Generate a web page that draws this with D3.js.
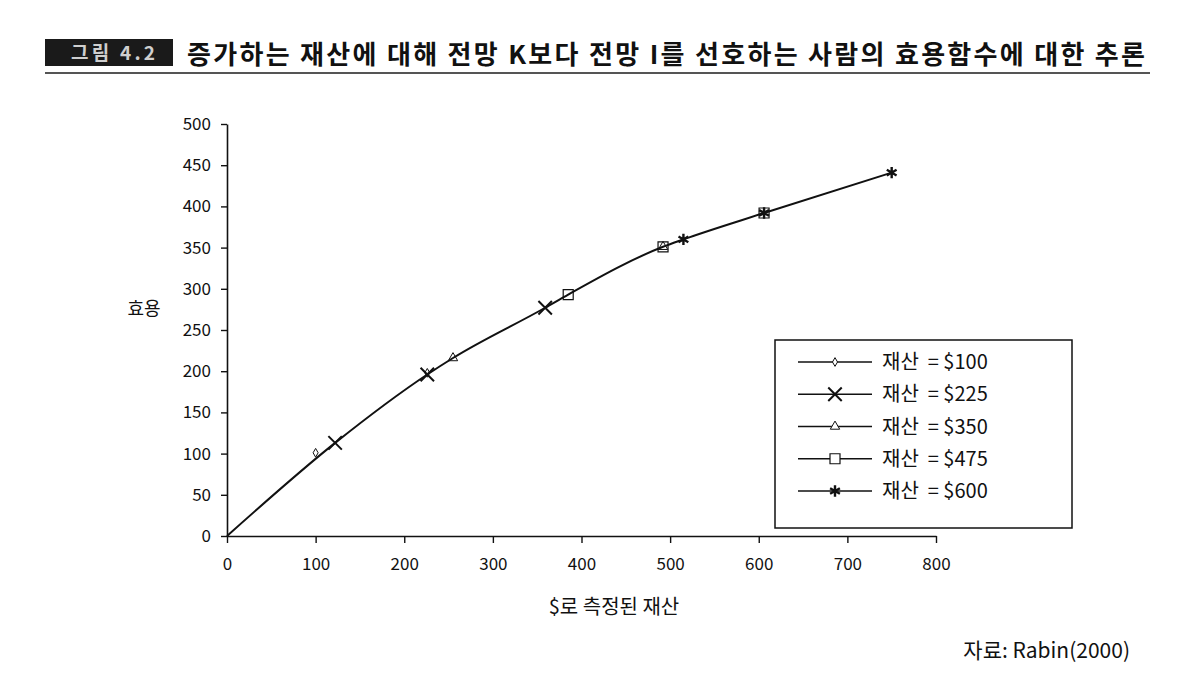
<!DOCTYPE html>
<html>
<head>
<meta charset="utf-8">
<script src="https://cdn.jsdelivr.net/npm/d3@7"></script>
<style>
  body { margin: 0; background: #fff; }
  text { font-family: "Noto Sans CJK KR", "Noto Sans", sans-serif; fill: #111; }
</style>
</head>
<body>
<div id="chart"></div>
<script>
// values
const xTicks = [0, 100, 200, 300, 400, 500, 600, 700, 800];
const yTicks = [0, 50, 100, 150, 200, 250, 300, 350, 400, 450, 500];

// the combined utility curve
const curveX = [0, 122, 226, 255, 359, 385, 492, 515, 606, 750];
const curveY = [0, 113, 196, 216, 277, 293, 351, 360, 392, 441];

const seriesNames = ["재산\u00a0 = $100", "재산\u00a0 = $225", "재산\u00a0 = $350", "재산\u00a0 = $475", "재산\u00a0 = $600"];
const s100X = [100, 226], s100Y = [101, 198];
const s225X = [122, 226, 359], s225Y = [113, 196, 277];
const s350X = [255, 492], s350Y = [216, 351];
const s475X = [385, 492, 606], s475Y = [293, 351, 392];
const s600X = [515, 606, 750], s600Y = [360, 392, 441];

const W = 1180, H = 692;

const svg = d3.select("#chart")
  .append("svg")
    .attr("width", W)
    .attr("height", H);

// title bar
svg.append("rect")
  .attr("x", 45).attr("y", 39)
  .attr("width", 128).attr("height", 27)
  .attr("fill", "#1a1a1a");
svg.append("text")
  .attr("x", 113).attr("y", 60)
  .attr("text-anchor", "middle")
  .attr("textLength", 84)
  .attr("lengthAdjust", "spacing")
  .style("font-size", "19px")
  .style("font-weight", "bold")
  .style("fill", "#cfcfcf")
  .text("그림 4.2");
svg.append("text")
  .attr("x", 187).attr("y", 64)
  .attr("textLength", 958)
  .attr("lengthAdjust", "spacing")
  .style("font-size", "26px")
  .style("font-weight", "bold")
  .text("증가하는 재산에 대해 전망 K보다 전망 I를 선호하는 사람의 효용함수에 대한 추론");
svg.append("line")
  .attr("x1", 45).attr("x2", 1150)
  .attr("y1", 73).attr("y2", 73)
  .attr("stroke", "#555")
  .attr("stroke-width", 2);

// scales
const x = d3.scaleLinear().domain([0, 800]).range([227, 936]);
const y = d3.scaleLinear().domain([0, 500]).range([536, 124]);

// axes
const gx = svg.append("g")
  .attr("transform", "translate(0," + y(0) + ")")
  .call(d3.axisBottom(x).tickValues(xTicks).tickSize(7).tickSizeOuter(0).tickPadding(15));
const gy = svg.append("g")
  .attr("transform", "translate(" + x(0) + ",0)")
  .call(d3.axisLeft(y).tickValues(yTicks).tickSize(6).tickSizeOuter(0).tickPadding(10));

[gx, gy].forEach(function(g) {
  g.select(".domain").attr("stroke", "#111").attr("stroke-width", 1.6);
  g.selectAll(".tick line").attr("stroke", "#111").attr("stroke-width", 1.4);
  g.selectAll(".tick text")
    .style("font-family", "'Noto Sans CJK KR', sans-serif")
    .style("font-size", "17px")
    .attr("fill", "#111");
});

// axis titles
svg.append("text")
  .attr("x", 614).attr("y", 614)
  .attr("text-anchor", "middle")
  .style("font-size", "20px")
  .text("$로 측정된 재산");
svg.append("text")
  .attr("x", 144).attr("y", 315)
  .attr("text-anchor", "middle")
  .style("font-size", "18px")
  .text("효용");

// curve
const curve = curveX.map(function(d, i) { return [d, curveY[i]]; });
svg.append("path")
  .datum(curve)
  .attr("fill", "none")
  .attr("stroke", "#111")
  .attr("stroke-width", 2)
  .attr("d", d3.line()
    .x(function(d) { return x(d[0]); })
    .y(function(d) { return y(d[1]); })
    .curve(d3.curveMonotoneX));

// markers
const series = [
  { xs: s100X, ys: s100Y, type: d3.symbolDiamond, size: 22, sw: 1 },
  { xs: s225X, ys: s225Y, type: d3.symbolX, size: 120, sw: 2 },
  { xs: s350X, ys: s350Y, type: d3.symbolTriangle, size: 38, sw: 1 },
  { xs: s475X, ys: s475Y, type: d3.symbolSquare, size: 100, sw: 1.2 },
  { xs: s600X, ys: s600Y, type: d3.symbolAsterisk, size: 90, sw: 2.4 }
];

series.forEach(function(s) {
  const pts = s.xs.map(function(d, i) { return [d, s.ys[i]]; });
  svg.selectAll(null)
    .data(pts)
    .enter()
    .append("path")
      .attr("transform", function(d) { return "translate(" + x(d[0]) + "," + y(d[1]) + ")"; })
      .attr("d", d3.symbol().type(s.type).size(s.size))
      .attr("fill", "none")
      .attr("stroke", "#111")
      .attr("stroke-width", s.sw);
});

// legend
const legend = svg.append("g");
legend.append("rect")
  .attr("x", 775).attr("y", 340)
  .attr("width", 297).attr("height", 188)
  .attr("fill", "#fff")
  .attr("stroke", "#111")
  .attr("stroke-width", 1.5);

const rowY = d3.scalePoint().domain(seriesNames).range([362, 491]);

seriesNames.forEach(function(name, i) {
  const cy = rowY(name);
  legend.append("line")
    .attr("x1", 798).attr("x2", 872)
    .attr("y1", cy).attr("y2", cy)
    .attr("stroke", "#111")
    .attr("stroke-width", 1.6);
  legend.append("path")
    .attr("transform", "translate(835," + cy + ")")
    .attr("d", d3.symbol().type(series[i].type).size(series[i].size))
    .attr("fill", "#fff")
    .attr("stroke", "#111")
    .attr("stroke-width", series[i].sw);
  legend.append("text")
    .attr("x", 882).attr("y", cy + 7)
    .style("font-size", "20px")
    .text(name);
});

// source note
svg.append("text")
  .attr("x", 1130).attr("y", 658)
  .attr("text-anchor", "end")
  .style("font-size", "21px")
  .text("자료: Rabin(2000)");
</script>
</body>
</html>
